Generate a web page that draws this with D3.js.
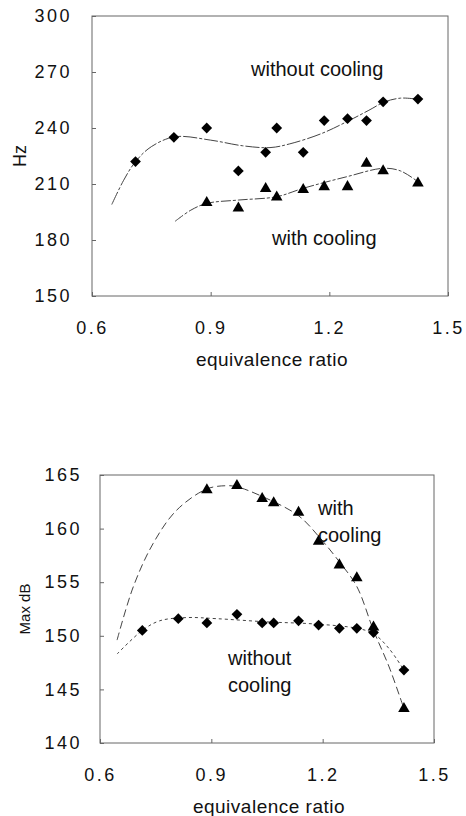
<!DOCTYPE html>
<html>
<head>
<meta charset="utf-8">
<script src="https://cdn.jsdelivr.net/npm/d3@7"></script>
<style>
  body { margin: 0; background: #fff; }
  svg { display: block; font-family: "Liberation Sans", Arial, sans-serif; }
</style>
</head>
<body>
<svg id="chart" width="466" height="816"></svg>
<script>
// x axis ticks (both panels)
const phiTicks = [0.6, 0.9, 1.2, 1.5];

// top panel: frequency (Hz)
const hzTicks = [150, 180, 210, 240, 270, 300];
const hzPhiWithout = [0.71, 0.807, 0.89, 0.97, 1.039, 1.067, 1.134, 1.187, 1.246, 1.294, 1.336, 1.424];
const hzWithout = [222, 235, 240, 217, 227, 240, 227, 244, 245, 244, 254, 255.5];
const hzPhiWith = [0.89, 0.97, 1.039, 1.067, 1.134, 1.187, 1.246, 1.294, 1.336, 1.424];
const hzWith = [200, 197, 207.5, 203, 207, 208.5, 208.5, 221, 217, 210.5];
// fitted trend lines
const hzFitPhiWithout = [0.65, 0.68, 0.71, 0.75, 0.81, 0.9, 0.98, 1.05, 1.1, 1.18, 1.25, 1.3, 1.34, 1.38, 1.42];
const hzFitWithout = [199, 212, 222, 230, 235.3, 233.5, 230.5, 229.5, 231.5, 237, 244, 249.5, 254, 256, 255.5];
const hzFitPhiWith = [0.81, 0.85, 0.89, 0.97, 1.067, 1.134, 1.244, 1.336, 1.38, 1.424];
const hzFitWith = [190, 196, 199.6, 201.4, 203.2, 207.7, 213.9, 218.4, 217, 211.2];

// bottom panel: max sound level (dB)
const dbTicks = [140, 145, 150, 155, 160, 165];
const dbPhiWithout = [0.714, 0.811, 0.888, 0.969, 1.037, 1.068, 1.135, 1.189, 1.245, 1.292, 1.337, 1.419];
const dbWithout = [150.5, 151.6, 151.2, 152.0, 151.2, 151.2, 151.4, 151.0, 150.7, 150.7, 150.3, 146.8];
const dbPhiWith = [0.888, 0.969, 1.037, 1.068, 1.135, 1.189, 1.245, 1.292, 1.337, 1.419];
const dbWith = [163.6, 164.0, 162.8, 162.4, 161.5, 158.8, 156.6, 155.4, 150.8, 143.2];
const dbFitPhiWith = [0.646, 0.69, 0.743, 0.806, 0.888, 0.94, 0.969, 1.037, 1.135, 1.191, 1.245, 1.292, 1.337, 1.379, 1.419];
const dbFitWith = [149.6, 154.6, 158.6, 161.7, 163.7, 164.0, 163.9, 163.0, 161.2, 159.2, 156.9, 154.6, 150.5, 147.1, 143.2];
const dbFitPhiWithout = [0.646, 0.714, 0.761, 0.833, 0.913, 1.05, 1.18, 1.292, 1.337, 1.379, 1.419];
const dbFitWithout = [148.3, 150.5, 151.4, 151.7, 151.6, 151.3, 151.1, 150.7, 150.2, 148.8, 146.8];

const zip = (xs, ys) => xs.map((x, i) => ({ x, y: ys[i] }));

const svg = d3.select("#chart");

function drawPanel(cfg) {
  const x = d3.scaleLinear().domain([0.6, 1.5]).range([cfg.left, cfg.right]);
  const y = d3.scaleLinear().domain(cfg.yDomain).range([cfg.bottom, cfg.top]);
  const g = svg.append("g");

  // frame
  g.append("rect")
    .attr("x", cfg.left).attr("y", cfg.top)
    .attr("width", cfg.right - cfg.left).attr("height", cfg.bottom - cfg.top)
    .attr("fill", "none").attr("stroke", "#666").attr("stroke-width", 1);

  const yAxis = g.append("g")
    .attr("transform", `translate(${cfg.left},0)`)
    .call(d3.axisLeft(y).tickValues(cfg.yTicks).tickSize(-4).tickPadding(cfg.yPad));
  const xAxis = g.append("g")
    .attr("transform", `translate(0,${cfg.bottom})`)
    .call(d3.axisBottom(x).tickValues(phiTicks).tickFormat(d3.format(".1f")).tickSize(-4).tickPadding(25));

  [yAxis, xAxis].forEach((a) => {
    a.select(".domain").remove();
    a.selectAll("line").attr("stroke", "#666");
    a.selectAll("text")
      .attr("font-size", 18)
      .attr("fill", "#111")
      .attr("letter-spacing", 2.5)
      .attr("font-family", null);
  });

  // axis titles
  g.append("text")
    .attr("x", (cfg.left + cfg.right) / 2 + 2)
    .attr("y", cfg.xTitleY)
    .attr("text-anchor", "middle")
    .attr("font-size", 19)
    .attr("letter-spacing", 0.5)
    .attr("fill", "#111")
    .text("equivalence ratio");

  g.append("text")
    .attr("transform", `translate(${cfg.yTitleX},${(cfg.top + cfg.bottom) / 2 + cfg.yTitleDy}) rotate(-90)`)
    .attr("text-anchor", "middle")
    .attr("font-size", cfg.yTitleSize)
    .attr("fill", "#111")
    .text(cfg.yTitle);

  // fitted curves
  const line = d3.line()
    .x((d) => x(d.x))
    .y((d) => y(d.y))
    .curve(d3.curveCatmullRom.alpha(0.5));

  cfg.fits.forEach((f) => {
    g.append("path")
      .datum(f.data)
      .attr("d", line)
      .attr("fill", "none")
      .attr("stroke", "#444")
      .attr("stroke-width", 1)
      .attr("stroke-dasharray", f.dash);
  });

  // markers
  const diamond = d3.symbol().type(d3.symbolSquare).size(58);
  const triangle = d3.symbol().type(d3.symbolTriangle).size(58);

  g.selectAll("path.without")
    .data(cfg.without)
    .join("path")
    .attr("class", "without")
    .attr("d", diamond)
    .attr("transform", (d) => `translate(${x(d.x)},${y(d.y)}) rotate(45)`)
    .attr("fill", "#000");

  g.selectAll("path.with")
    .data(cfg.with)
    .join("path")
    .attr("class", "with")
    .attr("d", triangle)
    .attr("transform", (d) => `translate(${x(d.x)},${y(d.y)})`)
    .attr("fill", "#000");

  // annotations
  cfg.notes.forEach((n) => {
    const t = g.append("text")
      .attr("x", n.x)
      .attr("y", n.y)
      .attr("font-size", 20)
      .attr("fill", "#111");
    n.lines.forEach((s, i) => {
      t.append("tspan").attr("x", n.x).attr("dy", i ? 27 : 0).text(s);
    });
  });
}

drawPanel({
  left: 92, right: 448, top: 16, bottom: 296,
  yDomain: [150, 300], yTicks: hzTicks, yPad: 20,
  xTitleY: 366,
  yTitle: "Hz", yTitleX: 26, yTitleDy: 0, yTitleSize: 18,
  without: zip(hzPhiWithout, hzWithout),
  with: zip(hzPhiWith, hzWith),
  fits: [
    { data: zip(hzFitPhiWithout, hzFitWithout), dash: "14,2,3,2" },
    { data: zip(hzFitPhiWith, hzFitWith), dash: "10,2,3,2" }
  ],
  notes: [
    { x: 251, y: 76, lines: ["without cooling"] },
    { x: 272, y: 245, lines: ["with cooling"] }
  ]
});

drawPanel({
  left: 100, right: 434, top: 475, bottom: 743,
  yDomain: [140, 165], yTicks: dbTicks, yPad: 18,
  xTitleY: 813,
  yTitle: "Max dB", yTitleX: 30, yTitleDy: 0, yTitleSize: 15,
  without: zip(dbPhiWithout, dbWithout),
  with: zip(dbPhiWith, dbWith),
  fits: [
    { data: zip(dbFitPhiWith, dbFitWith), dash: "8,4" },
    { data: zip(dbFitPhiWithout, dbFitWithout), dash: "3,3" }
  ],
  notes: [
    { x: 318, y: 515, lines: ["with", "cooling"] },
    { x: 228, y: 665, lines: ["without", "cooling"] }
  ]
});
</script>
</body>
</html>
